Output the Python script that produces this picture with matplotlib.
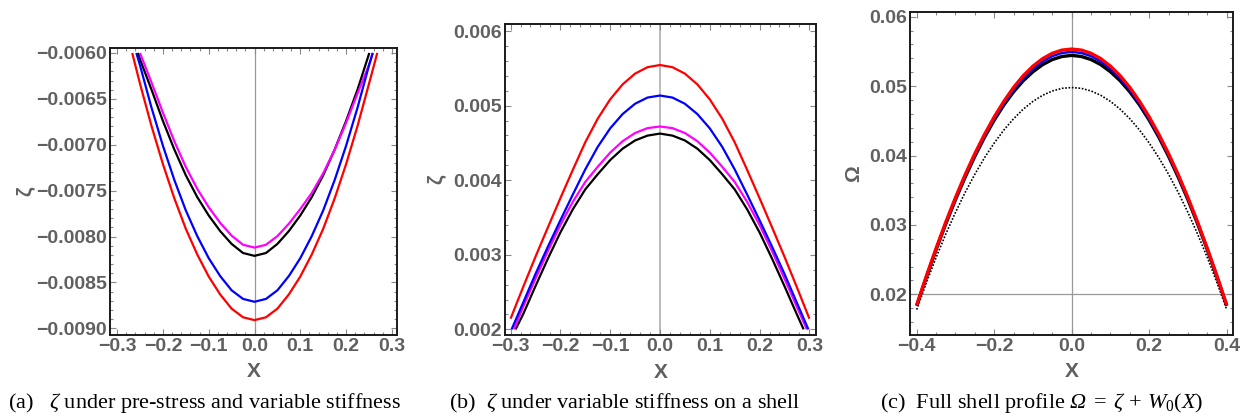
import matplotlib
matplotlib.use('Agg')
import matplotlib.pyplot as plt
from matplotlib.ticker import MultipleLocator, FuncFormatter

plt.rcParams['font.family'] = ['Liberation Sans', 'DejaVu Sans']
plt.rcParams['mathtext.fontset'] = 'custom'
plt.rcParams['mathtext.rm'] = 'Liberation Serif'
plt.rcParams['mathtext.it'] = 'Liberation Serif:italic'
plt.rcParams['mathtext.bf'] = 'Liberation Serif:bold'
# italic capital Greek (mathtext forces \mathit Greek capitals upright)
plt.rcParams['mathtext.cal'] = 'Liberation Serif:italic'

# (a) zeta under pre-stress and variable stiffness
xa_red = [-0.267, -0.25, -0.225, -0.2, -0.175, -0.15, -0.125, -0.1, -0.075, -0.05, -0.025, 0.0,
          0.025, 0.05, 0.075, 0.1, 0.125, 0.15, 0.175, 0.2, 0.225, 0.25, 0.268]
za_red = [-0.0060, -0.006335, -0.006794, -0.00721, -0.007584, -0.007915, -0.008195, -0.008435,
          -0.00863, -0.008785, -0.008879, -0.00891, -0.008879, -0.008785, -0.00863, -0.008435,
          -0.008195, -0.007915, -0.007584, -0.00721, -0.006794, -0.006335, -0.0060]
xa_blue = [-0.258, -0.25, -0.225, -0.2, -0.175, -0.15, -0.125, -0.1, -0.075, -0.05, -0.025, 0.0,
           0.025, 0.05, 0.075, 0.1, 0.125, 0.15, 0.175, 0.2, 0.225, 0.25, 0.258]
za_blue = [-0.0060, -0.006135, -0.006594, -0.00701, -0.007384, -0.007715, -0.007995, -0.008235,
           -0.00843, -0.008585, -0.008679, -0.00871, -0.008679, -0.008585, -0.00843, -0.008235,
           -0.007995, -0.007715, -0.007384, -0.00701, -0.006594, -0.006135, -0.0060]
xa_black = [-0.2545, -0.25, -0.225, -0.2, -0.175, -0.15, -0.125, -0.1, -0.075, -0.05, -0.025, 0.0,
            0.025, 0.05, 0.075, 0.1, 0.125, 0.15, 0.175, 0.2, 0.225, 0.25, 0.2505]
za_black = [-0.0060, -0.00607, -0.006398, -0.00674, -0.007052, -0.007332, -0.00757, -0.00777,
            -0.00794, -0.00808, -0.008179, -0.00821, -0.008179, -0.00808, -0.00794, -0.00777,
            -0.00757, -0.007332, -0.007052, -0.00674, -0.006398, -0.00601, -0.0060]
xa_mag = [-0.25, -0.225, -0.2, -0.175, -0.15, -0.125, -0.1, -0.075, -0.05, -0.025, 0.0,
          0.025, 0.05, 0.075, 0.1, 0.125, 0.15, 0.175, 0.2, 0.225, 0.25, 0.2585]
za_mag = [-0.0060, -0.00632, -0.00665, -0.006962, -0.007242, -0.00748, -0.00768, -0.00785,
          -0.00799, -0.008089, -0.00812, -0.008089, -0.007995, -0.00786, -0.0077, -0.007525,
          -0.00731, -0.007055, -0.00676, -0.00644, -0.00613, -0.0060]

# (b) zeta under variable stiffness on a shell
xb_red = [-0.3, -0.275, -0.25, -0.225, -0.2, -0.175, -0.15, -0.125, -0.1, -0.075, -0.05, -0.025, 0.0,
          0.025, 0.05, 0.075, 0.1, 0.125, 0.15, 0.175, 0.2, 0.225, 0.25, 0.275, 0.3]
zb_red = [0.002144, 0.002564, 0.002974, 0.003369, 0.003759, 0.004139, 0.004509, 0.004825, 0.005084,
          0.005285, 0.005429, 0.005515, 0.005544, 0.005515, 0.005429, 0.005285, 0.005084, 0.004825,
          0.004509, 0.004139, 0.003759, 0.003369, 0.002974, 0.002564, 0.002144]
xb_blue = [-0.298, -0.275, -0.25, -0.225, -0.2, -0.175, -0.15, -0.125, -0.1, -0.075, -0.05, -0.025, 0.0,
           0.025, 0.05, 0.075, 0.1, 0.125, 0.15, 0.175, 0.2, 0.225, 0.25, 0.275, 0.298]
zb_blue = [0.0020, 0.002355, 0.002743, 0.00311, 0.003463, 0.003808, 0.004145, 0.004447, 0.004695,
           0.004887, 0.005025, 0.005108, 0.005135, 0.005108, 0.005025, 0.004887, 0.004695, 0.004447,
           0.004145, 0.003808, 0.003463, 0.00311, 0.002743, 0.002355, 0.0020]
xb_mag = [-0.293, -0.275, -0.25, -0.225, -0.2, -0.175, -0.15, -0.125, -0.1, -0.075, -0.05, -0.025, 0.0,
          0.025, 0.05, 0.075, 0.1, 0.125, 0.15, 0.175, 0.2, 0.225, 0.25, 0.275, 0.295]
zb_mag = [0.0020, 0.0023, 0.00268, 0.00305, 0.0034, 0.00371, 0.003977, 0.00418, 0.00437, 0.004523,
          0.004633, 0.004698, 0.00472, 0.004698, 0.004633, 0.004523, 0.00437, 0.00418, 0.003977,
          0.00371, 0.0034, 0.00305, 0.00268, 0.0023, 0.0020]
xb_black = [-0.29, -0.275, -0.25, -0.225, -0.2, -0.175, -0.15, -0.125, -0.1, -0.075, -0.05, -0.025, 0.0,
            0.025, 0.05, 0.075, 0.1, 0.125, 0.15, 0.175, 0.2, 0.225, 0.25, 0.275, 0.2885]
zb_black = [0.0020, 0.0022, 0.00258, 0.00295, 0.0033, 0.00361, 0.003877, 0.00408, 0.00427, 0.004423,
            0.004533, 0.004598, 0.004625, 0.004598, 0.004533, 0.004423, 0.00427, 0.00408, 0.003877,
            0.00361, 0.0033, 0.00295, 0.00258, 0.0022, 0.0020]

# (c) full shell profile Omega = zeta + W0(X)
xc = [-0.4, -0.375, -0.35, -0.325, -0.3, -0.275, -0.25, -0.225, -0.2, -0.175, -0.15, -0.125, -0.1,
      -0.075, -0.05, -0.025, 0.0, 0.025, 0.05, 0.075, 0.1, 0.125, 0.15, 0.175, 0.2, 0.225, 0.25,
      0.275, 0.3, 0.325, 0.35, 0.375, 0.4]
wc_red = [0.01846, 0.02264, 0.02662, 0.0304, 0.03394, 0.03724, 0.04027, 0.04304, 0.04556, 0.04781,
          0.04981, 0.0515, 0.05288, 0.05396, 0.05473, 0.05519, 0.05534, 0.05519, 0.05473, 0.05396,
          0.05288, 0.0515, 0.04981, 0.04781, 0.04556, 0.04304, 0.04027, 0.03724, 0.03394, 0.0304,
          0.02662, 0.02264, 0.01846]
wc_blue = [0.0184, 0.02254, 0.0265, 0.03026, 0.03376, 0.03703, 0.04004, 0.04279, 0.04526, 0.04748,
           0.04945, 0.05112, 0.0525, 0.05356, 0.05433, 0.05478, 0.05494, 0.05478, 0.05433, 0.05356,
           0.0525, 0.05112, 0.04945, 0.04748, 0.04526, 0.04279, 0.04004, 0.03703, 0.03376, 0.03026,
           0.0265, 0.02254, 0.0184]
wc_black = [0.01835, 0.0225, 0.02643, 0.03015, 0.03363, 0.03688, 0.03988, 0.04263, 0.0451, 0.04729,
            0.04918, 0.05078, 0.05207, 0.0531, 0.05383, 0.05427, 0.05443, 0.05427, 0.05383, 0.0531,
            0.05207, 0.05078, 0.04918, 0.04729, 0.0451, 0.04263, 0.03988, 0.03688, 0.03363, 0.03015,
            0.02643, 0.0225, 0.01835]
wc_w0 = [0.0178, 0.02168, 0.0253, 0.02868, 0.0318, 0.03468, 0.0373, 0.03968, 0.0418, 0.04368,
         0.0453, 0.04668, 0.0478, 0.04868, 0.0493, 0.04968, 0.0498, 0.04968, 0.0493, 0.04868,
         0.0478, 0.04668, 0.0453, 0.04368, 0.0418, 0.03968, 0.0373, 0.03468, 0.0318, 0.02868,
         0.0253, 0.02168, 0.0178]

TICK_COLOR = '#606060'


def fmt(decimals):
    def f(v, pos):
        s = f'{v:.{decimals}f}'
        if float(s) == 0:
            s = s.lstrip('-')
        return s.replace('-', '\u2212')
    return FuncFormatter(f)


def style(ax, xlim, ylim, xmaj, xmin, ymaj, ymin, xdec, ydec, ylabel, ylab_x, xlab_y):
    ax.set_xlim(*xlim)
    ax.set_ylim(*ylim)
    ax.xaxis.set_major_locator(MultipleLocator(xmaj))
    ax.xaxis.set_minor_locator(MultipleLocator(xmin))
    ax.yaxis.set_major_locator(MultipleLocator(ymaj))
    ax.yaxis.set_minor_locator(MultipleLocator(ymin))
    ax.xaxis.set_major_formatter(fmt(xdec))
    ax.yaxis.set_major_formatter(fmt(ydec))
    ax.tick_params(which='both', direction='in', top=True, right=True, color='#888888', width=0.8)
    ax.tick_params(which='major', length=4.5, labelsize=14, labelcolor=TICK_COLOR, pad=2)
    ax.tick_params(which='minor', length=2.2)
    for lab in ax.get_xticklabels() + ax.get_yticklabels():
        lab.set_fontweight('bold')
    for sp in ax.spines.values():
        sp.set_color('#1a1a1a')
        sp.set_linewidth(1.4)
    ax.set_xlabel('X', fontsize=15, fontweight='bold', color=TICK_COLOR)
    ax.set_ylabel(ylabel, fontsize=15, fontweight='bold', color=TICK_COLOR, va='center')
    ax.xaxis.set_label_coords(0.5, xlab_y)
    ax.yaxis.set_label_coords(ylab_x, 0.5)


fig = plt.figure(figsize=(12.42, 4.19), dpi=100)
W, H = 1242, 419
ax1 = fig.add_axes([110 / W, (H - 335) / H, 287 / W, 287 / H])
ax2 = fig.add_axes([505 / W, (H - 335) / H, 311 / W, 311 / H])
ax3 = fig.add_axes([910 / W, (H - 335) / H, 323 / W, 323 / H])

lw = 1.6
line = dict(solid_joinstyle='round', solid_capstyle='butt')
# panel (a)
ax1.axvline(0, color='#999999', lw=0.9, zorder=1)
ax1.plot(xa_black, za_black, color='black', lw=lw, **line)
ax1.plot(xa_mag, za_mag, color='#ff00ff', lw=lw, **line)
ax1.plot(xa_blue, za_blue, color='#0000ff', lw=lw, **line)
ax1.plot(xa_red, za_red, color='#ff0000', lw=lw, **line)
style(ax1, (-0.3155, 0.3111), (-0.009072, -0.005946), 0.1, 0.02, 0.0005, 0.0001, 1, 4,
      '\u03b6', -0.296, -0.094)

# panel (b)
ax2.axvline(0, color='#bbbbbb', lw=1.4, zorder=1)
ax2.plot(xb_black, zb_black, color='black', lw=lw, **line)
ax2.plot(xb_mag, zb_mag, color='#ff00ff', lw=lw, **line)
ax2.plot(xb_blue, zb_blue, color='#0000ff', lw=lw, **line)
ax2.plot(xb_red, zb_red, color='#ff0000', lw=lw, **line)
style(ax2, (-0.3112, 0.3133), (0.001925, 0.006094), 0.1, 0.02, 0.001, 0.0002, 1, 3,
      '\u03b6', -0.222, -0.09)

# panel (c)
ax3.axvline(0, color='#999999', lw=0.9, zorder=1)
ax3.axhline(0.02, color='#999999', lw=0.9, zorder=1)
ax3.plot(xc, wc_w0, color='black', lw=1.2, linestyle=(0, (1, 1)))
ax3.plot(xc, wc_black, color='black', lw=2.4, **line)
ax3.plot(xc, wc_blue, color='#0000ff', lw=1.8, **line)
ax3.plot(xc, wc_red, color='#ff0000', lw=2.4, **line)
style(ax3, (-0.4173, 0.4163), (0.01414, 0.06068), 0.2, 0.05, 0.01, 0.002, 1, 2,
      '\u03a9', -0.173, -0.084)

# captions
cap = dict(fontsize=16, family=['Liberation Serif', 'DejaVu Serif'], ha='center', va='center')
fig.text(205 / W, 1 - 403 / H, r'(a)   $\zeta$ under pre-stress and variable stiffness', **cap)
fig.text(625 / W, 1 - 403 / H, r'(b)  $\zeta$ under variable stiffness on a shell', **cap)
fig.text(1042 / W, 1 - 403 / H,
         r'(c)  Full shell profile $\mathcal{\Omega}\;=\;\zeta\,+\,W_0(X)$', **cap)

fig.savefig('out.png', dpi=100)
